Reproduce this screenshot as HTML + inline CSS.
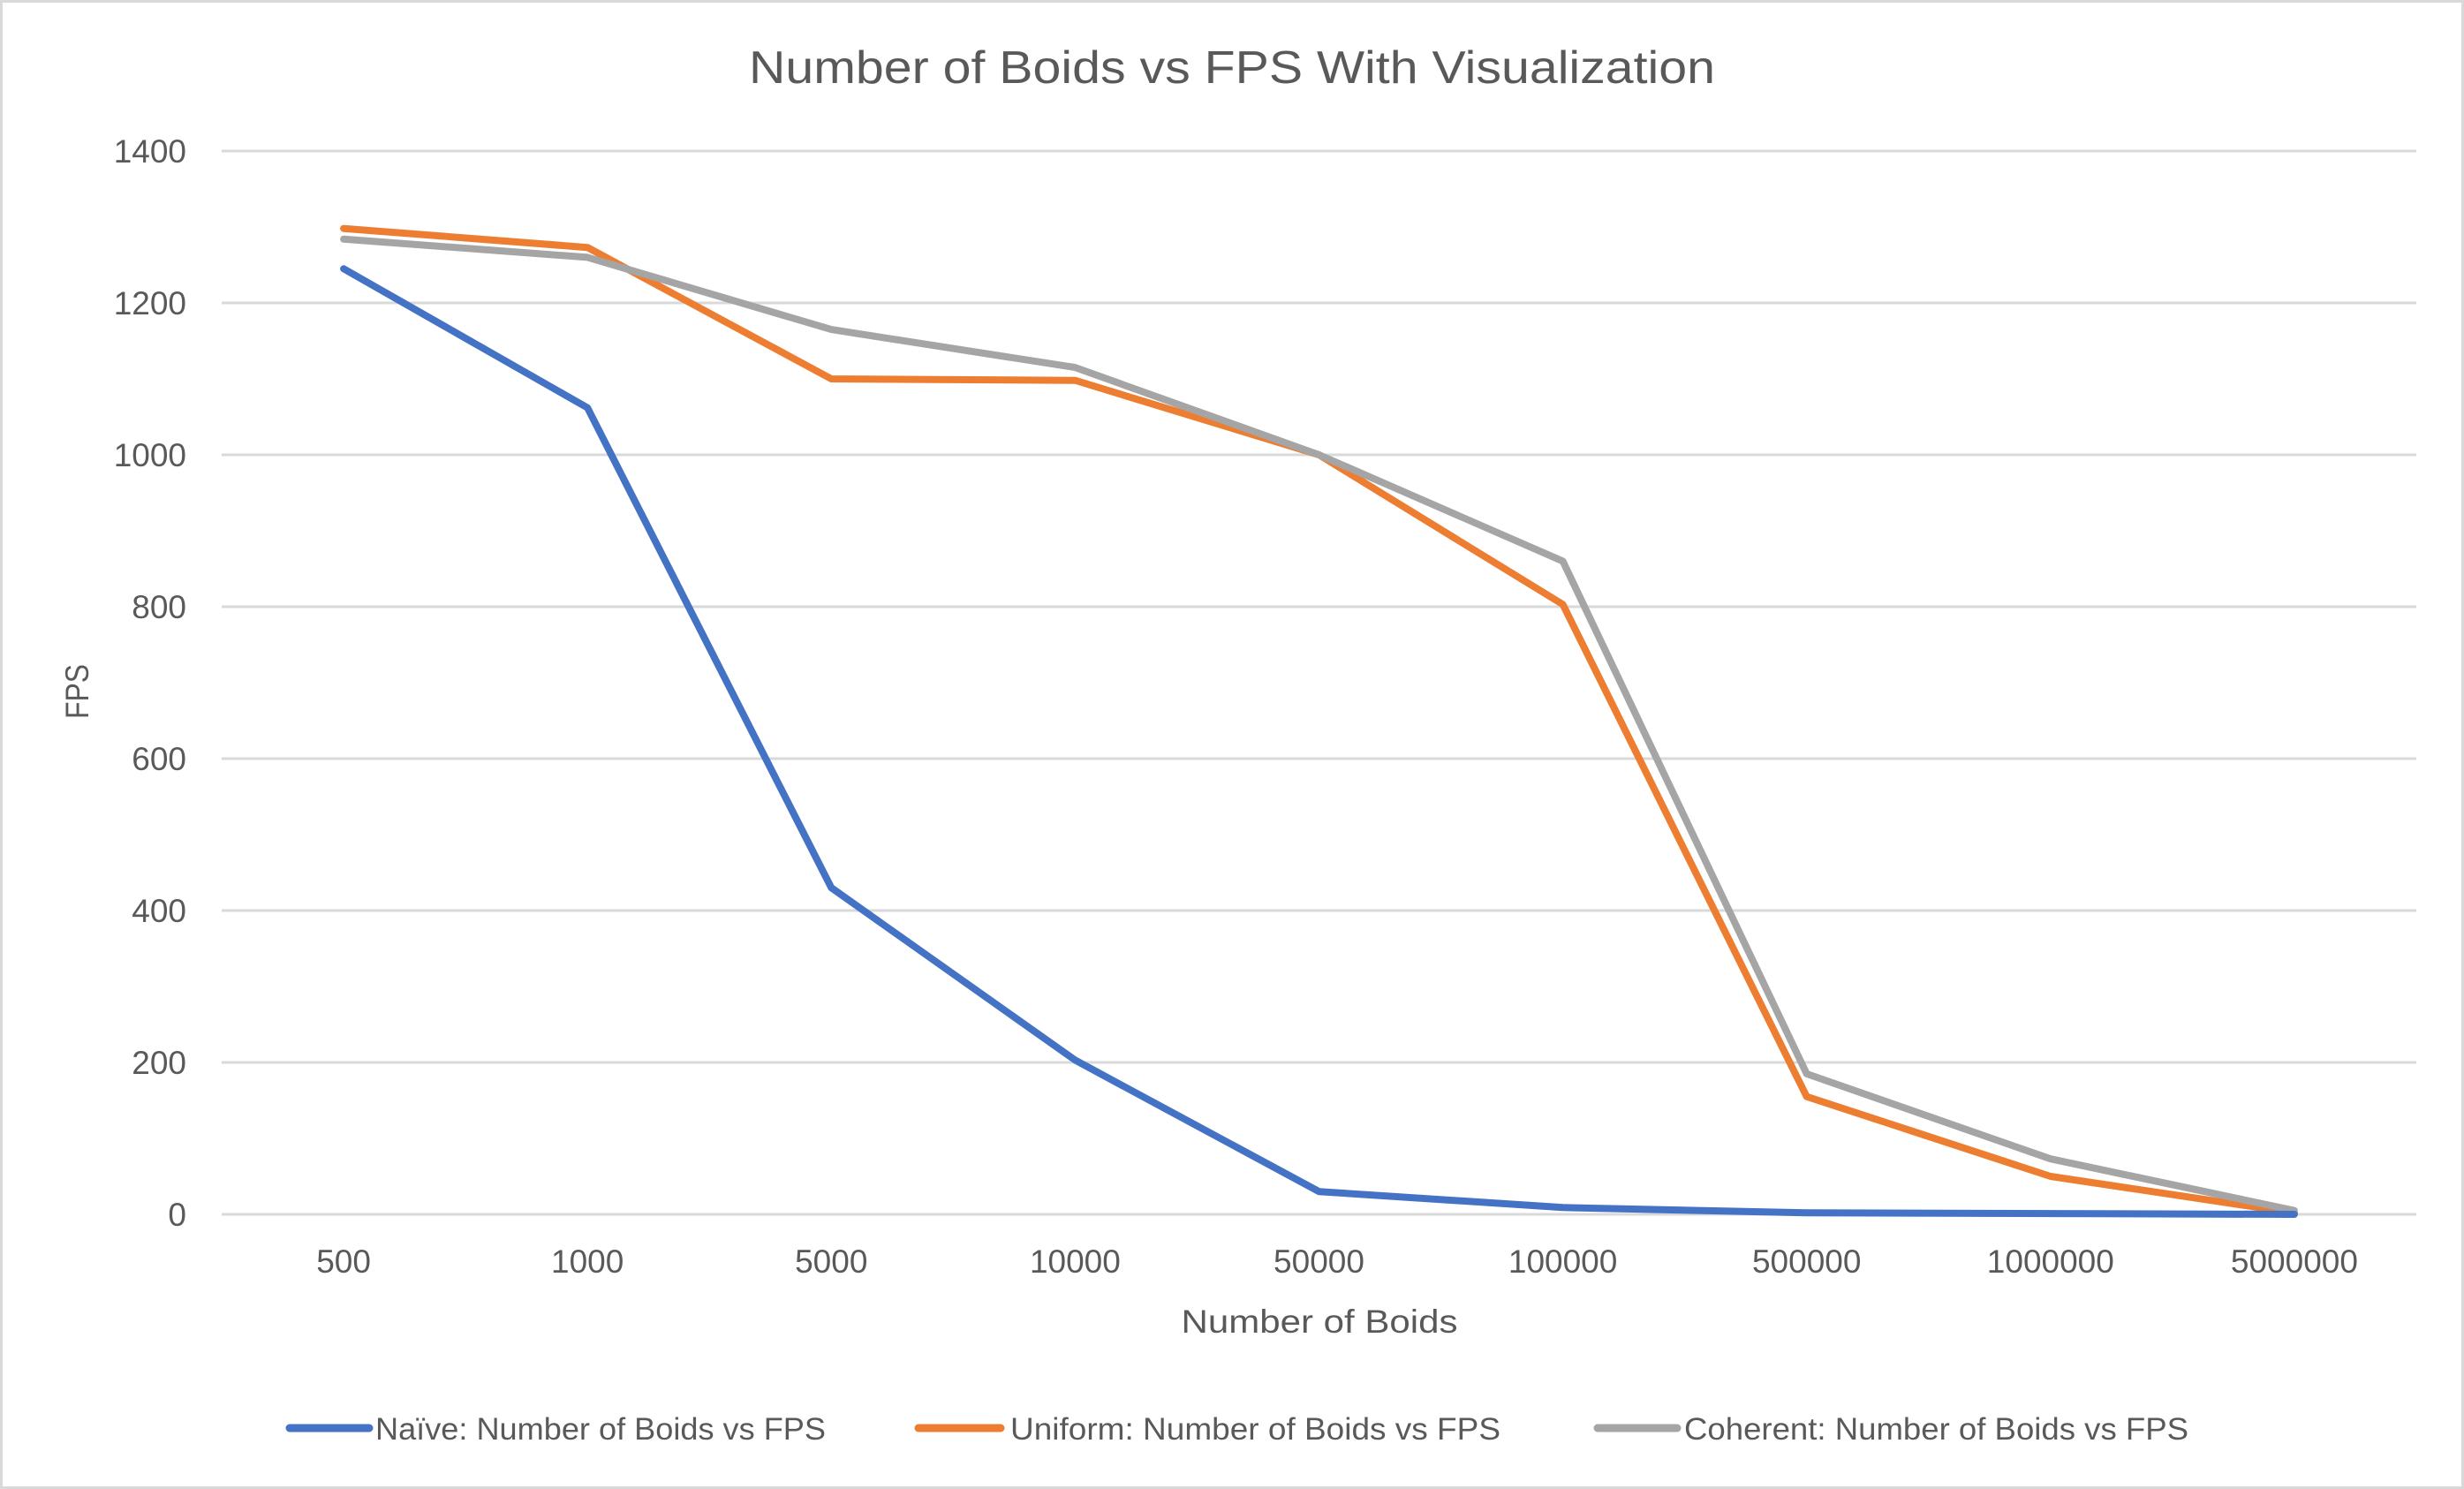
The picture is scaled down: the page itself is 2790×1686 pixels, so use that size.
<!DOCTYPE html>
<html><head><meta charset="utf-8"><style>
html,body{margin:0;padding:0;background:#fff;}
svg{display:block;font-family:"Liberation Sans Narrow","Liberation Sans",sans-serif;}
</style></head><body>
<svg id="chart" width="2790" height="1686" viewBox="0 0 2790 1686" xmlns="http://www.w3.org/2000/svg">
<rect x="1.5" y="1.5" width="2787" height="1683" fill="#fff" stroke="#D9D9D9" stroke-width="3"/>
<text x="1395" y="94" text-anchor="middle" font-size="52" fill="#595959" textLength="1094" lengthAdjust="spacingAndGlyphs">Number of Boids vs FPS With Visualization</text>
<g id="grid"></g>
<g id="yticks"></g>
<g id="xticks"></g>
<g id="series"></g>
<text x="1494" y="1509" text-anchor="middle" font-size="37" fill="#595959" textLength="313" lengthAdjust="spacingAndGlyphs">Number of Boids</text>
<text transform="translate(100,783) rotate(-90)" text-anchor="middle" font-size="37" fill="#595959" textLength="62" lengthAdjust="spacingAndGlyphs">FPS</text>
<g>
<g>
<line x1="328" y1="1617" x2="418" y2="1617" stroke="#4472C4" stroke-width="9" stroke-linecap="round"/>
<text x="425" y="1630" font-size="35" fill="#595959" textLength="510" lengthAdjust="spacingAndGlyphs">Naïve: Number of Boids vs FPS</text>
</g>
<g>
<line x1="1040" y1="1617" x2="1133" y2="1617" stroke="#ED7D31" stroke-width="9" stroke-linecap="round"/>
<text x="1144" y="1630" font-size="35" fill="#595959" textLength="555" lengthAdjust="spacingAndGlyphs">Uniform: Number of Boids vs FPS</text>
</g>
<g>
<line x1="1809" y1="1617" x2="1899" y2="1617" stroke="#A5A5A5" stroke-width="9" stroke-linecap="round"/>
<text x="1907" y="1630" font-size="35" fill="#595959" textLength="571" lengthAdjust="spacingAndGlyphs">Coherent: Number of Boids vs FPS</text>
</g>
</g>
</svg>
<script>
const categories = ["500","1000","5000","10000","50000","100000","500000","1000000","5000000"];
const naive = [1245,1062,430,203,30,9,2,1,0];
const uniform = [1298,1273,1100,1098,1000,803,155,50,2];
const coherent = [1284,1260,1165,1115,1000,860,185,73,5];
const yTicks = [0,200,400,600,800,1000,1200,1400];

const NS = "http://www.w3.org/2000/svg";
const plotLeft = 251, plotRight = 2736, plotTop = 171, plotBottom = 1375, yMax = 1400;
const band = (plotRight - plotLeft) / categories.length;
function xPos(i){ return plotLeft + band * (i + 0.5); }
function yPos(v){ return plotBottom - (v / yMax) * (plotBottom - plotTop); }
function mk(tag, attrs, parent){ const e = document.createElementNS(NS, tag); for (const k in attrs) e.setAttribute(k, attrs[k]); parent.appendChild(e); return e; }

const grid = document.getElementById('grid');
const yt = document.getElementById('yticks');
yTicks.forEach(t => {
  const l = mk('line', {x1:plotLeft, x2:plotRight, y1:yPos(t), y2:yPos(t), stroke:'#D9D9D9', 'stroke-width':3}, grid);
  
  
  const tx = mk('text', {x:211, y:yPos(t)+13, 'text-anchor':'end', 'font-size':37, fill:'#595959'}, yt);
  tx.textContent = String(t);
  
  
});
const xt = document.getElementById('xticks');
categories.forEach((c, i) => {
  const tx = mk('text', {x:xPos(i), y:1441, 'text-anchor':'middle', 'font-size':37, fill:'#595959'}, xt);
  tx.textContent = c;
  
  
});
const sg = document.getElementById('series');
const seriesList = [[uniform,'#ED7D31','uniform'],[coherent,'#A5A5A5','coherent'],[naive,'#4472C4','naive']];
seriesList.forEach(([vals,col,name]) => {
  const pts = vals.map((v,i) => xPos(i).toFixed(1) + ',' + yPos(v).toFixed(1)).join(' ');
  const p = mk('polyline', {points:pts, fill:'none', stroke:col, 'stroke-width':8, 'stroke-linejoin':'round', 'stroke-linecap':'round'}, sg);
  
  
});
</script>
</body></html>
